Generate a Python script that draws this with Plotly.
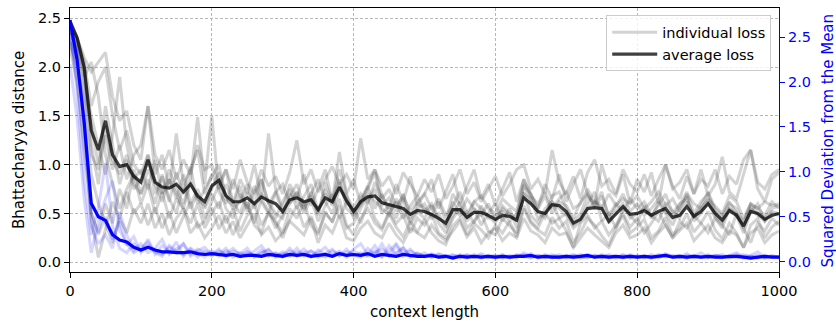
import plotly.graph_objects as go

# context lengths, sampled every 10 tokens
context = list(range(0, 1001, 10))

# Bhattacharyya distance for each individual run
loss_run_a = [
    2.40, 2.15, 1.40, 0.45, 0.05, 0.35, 0.62, 0.45, 0.72, 0.50,
    0.60, 0.38, 0.56, 0.35, 0.52, 0.30, 0.47, 0.62, 0.36, 0.42,
    0.56, 0.34, 0.48, 0.28, 0.45, 0.62, 0.38, 0.30, 0.52, 0.40,
    0.25, 0.44, 0.58, 0.36, 0.47, 0.30, 0.52, 0.41, 0.65, 0.38,
    0.28, 0.45, 0.55, 0.40, 0.33, 0.50, 0.36, 0.26, 0.42, 0.31,
    0.44, 0.30, 0.22, 0.18, 0.37, 0.45, 0.28, 0.40, 0.33, 0.25,
    0.38, 0.30, 0.42, 0.26, 0.55, 0.40, 0.33, 0.28, 0.46, 0.35,
    0.42, 0.20, 0.30, 0.45, 0.38, 0.27, 0.18, 0.35, 0.48, 0.30,
    0.36, 0.44, 0.25, 0.32, 0.46, 0.28, 0.35, 0.50, 0.31, 0.40,
    0.52, 0.33, 0.24, 0.40, 0.30, 0.15, 0.38, 0.45, 0.25, 0.36,
    0.42,
]
loss_run_b = [
    2.45, 2.30, 2.10, 1.95, 2.05, 2.15, 1.70, 1.45, 1.55, 1.20,
    1.05, 1.60, 1.10, 0.95, 1.15, 0.85, 1.05, 0.90, 1.20, 0.95,
    1.00, 0.80, 0.95, 0.75, 1.05, 0.82, 0.70, 0.95, 0.78, 0.88,
    0.70, 0.92, 1.25, 0.80, 0.95, 0.72, 0.85, 0.98, 0.80, 0.90,
    0.75, 1.27, 0.85, 0.95, 0.78, 0.88, 0.70, 0.92, 0.80, 0.68,
    0.85, 0.72, 0.90, 0.65, 0.78, 0.95, 0.70, 0.82, 0.62, 0.75,
    0.88, 0.68, 0.80, 0.95, 1.00, 0.75, 0.85, 0.70, 1.15, 0.82,
    0.70, 0.88, 0.65, 0.92, 1.05, 0.78, 0.85, 0.70, 0.95, 0.80,
    0.72, 0.90, 0.68, 0.85, 1.00, 0.75, 0.82, 0.95, 0.70, 0.85,
    0.78, 0.95, 0.70, 0.88, 0.80, 1.05, 1.15, 0.82, 0.75, 0.90,
    0.95,
]
loss_run_c = [
    2.35, 2.20, 1.85, 1.50, 1.20, 0.90, 1.30, 1.90, 1.20, 0.85,
    0.95, 0.75, 1.05, 0.70, 0.85, 0.65, 0.90, 0.60, 0.75, 0.55,
    0.70, 0.55, 0.80, 0.62, 0.50, 0.72, 0.58, 0.85, 0.60, 0.45,
    0.62, 0.75, 0.55, 0.68, 0.80, 0.52, 0.70, 0.60, 0.85, 0.55,
    0.48, 0.65, 0.78, 0.55, 0.70, 0.50, 0.62, 0.45, 0.58, 0.68,
    0.52, 0.60, 0.45, 0.38, 0.62, 0.50, 0.65, 0.55, 0.48, 0.60,
    0.42, 0.58, 0.50, 0.45, 0.80, 0.62, 0.55, 0.68, 0.50, 0.62,
    0.58, 0.45, 0.62, 0.70, 0.55, 0.68, 0.48, 0.60, 0.52, 0.65,
    0.55, 0.62, 0.48, 0.58, 0.70, 0.50, 0.60, 0.65, 0.45, 0.58,
    0.72, 0.55, 0.48, 0.62, 0.50, 0.42, 0.60, 0.55, 0.48, 0.62,
    0.55,
]
loss_run_d = [
    2.40, 2.25, 1.90, 2.05, 1.70, 1.10, 0.80, 0.55, 0.75, 0.90,
    0.60, 0.80, 0.50, 0.72, 0.45, 0.65, 0.55, 0.40, 0.60, 0.35,
    0.50, 0.62, 0.40, 0.55, 0.32, 0.48, 0.60, 0.38, 0.50, 0.42,
    0.30, 0.55, 0.45, 0.62, 0.38, 0.28, 0.50, 0.42, 0.58, 0.35,
    0.40, 0.55, 0.68, 0.45, 0.35, 0.52, 0.40, 0.48, 0.30, 0.45,
    0.38, 0.50, 0.30, 0.25, 0.45, 0.55, 0.35, 0.42, 0.50, 0.32,
    0.28, 0.45, 0.38, 0.30, 0.58, 0.42, 0.35, 0.50, 0.40, 0.45,
    0.32, 0.15, 0.40, 0.48, 0.35, 0.42, 0.28, 0.38, 0.50, 0.36,
    0.45, 0.30, 0.40, 0.52, 0.38, 0.25, 0.42, 0.35, 0.48, 0.40,
    0.30, 0.45, 0.38, 0.28, 0.50, 0.35, 0.20, 0.40, 0.32, 0.45,
    0.38,
]
loss_run_e = [
    2.30, 2.10, 1.75, 1.40, 1.00, 1.30, 0.95, 1.20, 0.85, 1.10,
    1.20, 1.60, 0.90, 1.10, 0.75, 1.32, 0.80, 0.95, 1.15, 0.70,
    0.90, 0.75, 0.95, 0.60, 0.85, 0.70, 1.00, 0.65, 1.32, 0.75,
    0.55, 0.80, 0.65, 0.90, 0.58, 0.75, 0.95, 0.62, 1.13, 0.70,
    0.85, 0.60, 0.78, 0.95, 0.68, 0.55, 0.80, 0.62, 0.88, 0.58,
    0.70, 0.85, 0.55, 0.72, 0.90, 0.60, 0.78, 0.95, 0.65, 0.80,
    0.58, 0.75, 0.92, 0.62, 0.85, 0.70, 0.55, 0.80, 0.65, 0.90,
    0.62, 0.80, 0.95, 0.70, 0.58, 1.00, 0.75, 0.68, 0.90, 0.60,
    0.85, 0.72, 0.92, 0.60, 1.00, 0.78, 0.65, 0.88, 0.70, 0.95,
    0.68, 0.80, 1.08, 0.72, 0.65, 0.90, 1.15, 0.75, 0.62, 0.85,
    0.92,
]
loss_run_f = [
    2.20, 1.85, 1.20, 0.50, 0.30, 0.60, 0.40, 0.75, 0.55, 0.95,
    0.70, 0.85, 0.60, 0.90, 0.65, 0.50, 0.80, 0.55, 0.70, 0.45,
    0.62, 0.80, 0.55, 0.45, 0.70, 0.58, 0.40, 0.65, 0.52, 0.35,
    0.48, 0.60, 0.72, 0.50, 0.65, 0.42, 0.58, 0.70, 0.45, 0.62,
    0.55, 0.40, 0.62, 0.75, 0.50, 0.58, 0.45, 0.65, 0.38, 0.52,
    0.45, 0.58, 0.40, 0.30, 0.48, 0.62, 0.42, 0.55, 0.38, 0.50,
    0.60, 0.42, 0.55, 0.35, 0.72, 0.48, 0.40, 0.55, 0.62, 0.45,
    0.50, 0.38, 0.45, 0.60, 0.72, 0.42, 0.50, 0.35, 0.55, 0.48,
    0.40, 0.58, 0.45, 0.62, 0.50, 0.38, 0.55, 0.68, 0.42, 0.50,
    0.62, 0.45, 0.35, 0.55, 0.48, 0.30, 0.52, 0.60, 0.42, 0.50,
    0.48,
]
loss_run_g = [
    2.45, 2.30, 2.05, 1.60, 1.85, 2.00, 1.50, 1.15, 1.35, 1.00,
    0.90, 1.10, 0.85, 0.70, 0.95, 0.75, 0.60, 0.85, 1.49, 0.80,
    1.50, 0.72, 0.60, 0.85, 0.68, 0.55, 0.78, 0.62, 0.50, 0.72,
    0.80, 0.60, 0.72, 0.55, 0.70, 0.85, 0.62, 0.50, 0.75, 0.68,
    0.55, 0.70, 0.60, 0.82, 0.65, 0.75, 0.58, 0.68, 0.52, 0.62,
    0.70, 0.55, 0.65, 0.48, 0.58, 0.72, 0.50, 0.62, 0.68, 0.55,
    0.50, 0.65, 0.58, 0.52, 0.85, 0.68, 0.60, 0.72, 0.55, 0.65,
    0.72, 0.55, 0.60, 0.75, 0.62, 0.55, 0.70, 0.58, 0.65, 0.60,
    0.68, 0.55, 0.62, 0.72, 0.58, 0.65, 0.52, 0.70, 0.60, 0.55,
    0.65, 0.58, 0.50, 0.68, 0.62, 0.45, 0.60, 0.55, 0.62, 0.58,
    0.60,
]
loss_run_h = [
    2.25, 2.00, 1.60, 0.90, 0.60, 0.40, 0.20, 0.45, 0.30, 0.55,
    0.40, 0.60, 0.35, 0.50, 0.28, 0.45, 0.55, 0.30, 0.40, 0.25,
    0.35, 0.48, 0.30, 0.42, 0.25, 0.38, 0.50, 0.28, 0.36, 0.22,
    0.30, 0.42, 0.35, 0.28, 0.45, 0.20, 0.38, 0.30, 0.48, 0.25,
    0.22, 0.35, 0.42, 0.30, 0.25, 0.40, 0.28, 0.20, 0.35, 0.30,
    0.25, 0.38, 0.28, 0.22, 0.32, 0.42, 0.26, 0.35, 0.20, 0.30,
    0.35, 0.22, 0.30, 0.25, 0.45, 0.32, 0.28, 0.20, 0.35, 0.28,
    0.30, 0.15, 0.25, 0.35, 0.28, 0.22, 0.15, 0.30, 0.38, 0.25,
    0.28, 0.35, 0.20, 0.30, 0.38, 0.25, 0.32, 0.40, 0.22, 0.30,
    0.38, 0.25, 0.20, 0.32, 0.28, 0.15, 0.30, 0.35, 0.20, 0.28,
    0.32,
]
loss_run_i = [
    2.38, 2.20, 1.95, 1.10, 0.95, 1.60, 1.20, 0.80, 1.05, 0.75,
    0.85, 1.10, 0.70, 0.88, 0.62, 0.92, 0.70, 0.98, 0.60, 0.75,
    0.88, 1.00, 0.65, 0.58, 0.78, 0.52, 0.70, 0.85, 0.60, 0.72,
    0.50, 0.68, 0.80, 0.58, 0.72, 0.48, 0.82, 0.62, 0.95, 0.70,
    0.45, 0.62, 0.75, 0.92, 0.58, 0.66, 0.52, 0.70, 0.45, 0.60,
    0.55, 0.48, 0.62, 0.42, 0.70, 0.58, 0.45, 0.62, 0.55, 0.48,
    0.40, 0.55, 0.48, 0.42, 0.78, 0.70, 0.52, 0.45, 0.68, 0.72,
    0.55, 0.42, 0.50, 0.68, 0.60, 0.72, 0.45, 0.58, 0.70, 0.52,
    0.60, 0.48, 0.55, 0.65, 0.52, 0.45, 0.58, 0.72, 0.50, 0.62,
    0.70, 0.52, 0.45, 0.60, 0.55, 0.40, 0.58, 0.50, 0.45, 0.55,
    0.58,
]
loss_run_j = [
    2.42, 2.28, 2.00, 1.20, 0.80, 1.40, 1.05, 0.90, 1.10, 0.80,
    0.70, 0.95, 0.80, 0.62, 0.85, 0.70, 0.55, 0.82, 0.65, 0.58,
    0.75, 0.92, 0.68, 0.55, 0.62, 0.80, 0.55, 0.70, 0.62, 0.50,
    0.45, 0.70, 0.62, 0.55, 0.68, 0.50, 0.75, 0.58, 0.82, 0.62,
    0.52, 0.58, 0.70, 0.62, 0.55, 0.48, 0.65, 0.52, 0.42, 0.55,
    0.60, 0.45, 0.50, 0.35, 0.55, 0.48, 0.52, 0.40, 0.58, 0.45,
    0.48, 0.52, 0.42, 0.50, 0.70, 0.65, 0.45, 0.50, 0.62, 0.55,
    0.48, 0.35, 0.42, 0.55, 0.62, 0.58, 0.40, 0.52, 0.60, 0.45,
    0.50, 0.55, 0.48, 0.42, 0.60, 0.52, 0.45, 0.62, 0.48, 0.55,
    0.65, 0.48, 0.40, 0.55, 0.50, 0.35, 0.55, 0.48, 0.42, 0.52,
    0.50,
]

# mean Bhattacharyya distance over runs
average_loss = [
    2.47, 2.30, 2.00, 1.35, 1.15, 1.45, 1.10, 0.98, 1.00, 0.88,
    0.82, 1.05, 0.82, 0.77, 0.76, 0.80, 0.72, 0.80, 0.68, 0.62,
    0.78, 0.84, 0.68, 0.62, 0.62, 0.66, 0.60, 0.67, 0.63, 0.60,
    0.52, 0.64, 0.66, 0.62, 0.64, 0.54, 0.66, 0.62, 0.77, 0.63,
    0.52, 0.62, 0.67, 0.68, 0.61, 0.59, 0.57, 0.55, 0.49, 0.53,
    0.52, 0.49, 0.45, 0.40, 0.54, 0.54, 0.46, 0.51, 0.51, 0.48,
    0.44, 0.48, 0.47, 0.43, 0.66, 0.60, 0.52, 0.50, 0.59, 0.58,
    0.52, 0.40, 0.44, 0.55, 0.56, 0.55, 0.42, 0.50, 0.57, 0.49,
    0.50, 0.53, 0.48, 0.52, 0.55, 0.46, 0.48, 0.57, 0.47, 0.52,
    0.60, 0.50, 0.43, 0.53, 0.48, 0.37, 0.52, 0.50, 0.44, 0.48,
    0.50,
]

# squared deviation from the mean, per run
sqdev_run_a = [
    2.60, 1.90, 0.90, 0.30, 0.60, 1.10, 0.40, 0.15, 0.10, 0.20,
    0.12, 0.25, 0.08, 0.18, 0.10, 0.22, 0.06, 0.15, 0.10, 0.05,
    0.12, 0.08, 0.15, 0.05, 0.10, 0.06, 0.12, 0.18, 0.07, 0.10,
    0.05, 0.12, 0.08, 0.14, 0.06, 0.10, 0.16, 0.07, 0.12, 0.05,
    0.14, 0.20, 0.08, 0.18, 0.06, 0.12, 0.20, 0.09, 0.14, 0.06,
    0.10, 0.05, 0.09, 0.06, 0.08, 0.04, 0.07, 0.05, 0.09, 0.06,
    0.05, 0.08, 0.04, 0.07, 0.05, 0.09, 0.04, 0.06, 0.08, 0.05,
    0.07, 0.04, 0.06, 0.08, 0.05, 0.07, 0.04, 0.06, 0.05, 0.08,
    0.05, 0.07, 0.04, 0.06, 0.09, 0.05, 0.07, 0.04, 0.06, 0.05,
    0.08, 0.05, 0.04, 0.07, 0.10, 0.05, 0.06, 0.04, 0.07, 0.05,
    0.06,
]
sqdev_run_b = [
    2.45, 2.20, 1.80, 0.40, 0.20, 0.30, 0.15, 0.55, 0.30, 0.12,
    0.20, 0.10, 0.15, 0.25, 0.08, 0.14, 0.20, 0.06, 0.12, 0.16,
    0.08, 0.14, 0.05, 0.12, 0.09, 0.15, 0.05, 0.10, 0.13, 0.06,
    0.11, 0.07, 0.15, 0.06, 0.12, 0.08, 0.05, 0.12, 0.07, 0.14,
    0.06, 0.10, 0.07, 0.12, 0.05, 0.18, 0.08, 0.15, 0.06, 0.10,
    0.05, 0.08, 0.06, 0.04, 0.07, 0.05, 0.08, 0.06, 0.04, 0.07,
    0.06, 0.04, 0.07, 0.05, 0.08, 0.05, 0.07, 0.04, 0.06, 0.08,
    0.05, 0.07, 0.04, 0.06, 0.05, 0.08, 0.06, 0.04, 0.07, 0.05,
    0.06, 0.04, 0.08, 0.05, 0.07, 0.05, 0.04, 0.07, 0.06, 0.10,
    0.05, 0.07, 0.05, 0.04, 0.06, 0.08, 0.05, 0.07, 0.04, 0.06,
    0.05,
]
sqdev_run_c = [
    2.20, 1.60, 0.70, 0.10, 0.45, 0.70, 0.90, 0.35, 0.20, 0.10,
    0.15, 0.22, 0.10, 0.06, 0.18, 0.12, 0.08, 0.14, 0.05, 0.12,
    0.10, 0.06, 0.12, 0.08, 0.05, 0.10, 0.07, 0.13, 0.06, 0.09,
    0.07, 0.15, 0.06, 0.10, 0.12, 0.05, 0.09, 0.14, 0.06, 0.11,
    0.08, 0.05, 0.15, 0.07, 0.20, 0.06, 0.10, 0.16, 0.05, 0.09,
    0.06, 0.09, 0.05, 0.07, 0.04, 0.08, 0.06, 0.05, 0.07, 0.04,
    0.07, 0.05, 0.06, 0.04, 0.10, 0.06, 0.05, 0.08, 0.04, 0.06,
    0.04, 0.06, 0.08, 0.05, 0.07, 0.04, 0.06, 0.05, 0.08, 0.04,
    0.07, 0.05, 0.06, 0.04, 0.08, 0.06, 0.05, 0.09, 0.04, 0.06,
    0.05, 0.06, 0.08, 0.05, 0.04, 0.06, 0.07, 0.11, 0.05, 0.06,
    0.04,
]
sqdev_run_d = [
    2.55, 2.00, 1.20, 0.55, 0.30, 0.50, 0.25, 0.45, 0.18, 0.28,
    0.10, 0.18, 0.12, 0.08, 0.16, 0.10, 0.20, 0.08, 0.14, 0.10,
    0.06, 0.12, 0.09, 0.15, 0.07, 0.11, 0.06, 0.09, 0.14, 0.05,
    0.09, 0.06, 0.11, 0.08, 0.05, 0.13, 0.08, 0.06, 0.10, 0.07,
    0.12, 0.08, 0.06, 0.10, 0.14, 0.07, 0.18, 0.06, 0.12, 0.08,
    0.07, 0.05, 0.08, 0.06, 0.05, 0.07, 0.04, 0.08, 0.05, 0.06,
    0.04, 0.07, 0.05, 0.08, 0.06, 0.04, 0.07, 0.05, 0.06, 0.04,
    0.06, 0.08, 0.05, 0.04, 0.07, 0.05, 0.08, 0.06, 0.04, 0.07,
    0.05, 0.06, 0.04, 0.08, 0.05, 0.07, 0.06, 0.04, 0.07, 0.05,
    0.04, 0.07, 0.06, 0.05, 0.08, 0.04, 0.06, 0.05, 0.04, 0.07,
    0.05,
]

# mean squared deviation over runs
average_sqdev = [
    2.69, 2.25, 1.55, 0.65, 0.50, 0.46, 0.30, 0.24, 0.22, 0.16,
    0.13, 0.16, 0.13, 0.11, 0.11, 0.10, 0.10, 0.11, 0.09, 0.08,
    0.09, 0.08, 0.07, 0.08, 0.06, 0.07, 0.07, 0.06, 0.08, 0.07,
    0.06, 0.08, 0.07, 0.08, 0.06, 0.07, 0.08, 0.06, 0.09, 0.07,
    0.08, 0.07, 0.09, 0.06, 0.08, 0.07, 0.06, 0.08, 0.07, 0.06,
    0.06, 0.07, 0.05, 0.06, 0.04, 0.06, 0.05, 0.06, 0.05, 0.06,
    0.05, 0.06, 0.05, 0.06, 0.06, 0.07, 0.05, 0.06, 0.05, 0.05,
    0.06, 0.05, 0.06, 0.07, 0.05, 0.06, 0.05, 0.06, 0.05, 0.06,
    0.05, 0.06, 0.05, 0.06, 0.07, 0.05, 0.06, 0.05, 0.06, 0.05,
    0.06, 0.05, 0.05, 0.06, 0.06, 0.05, 0.04, 0.05, 0.06, 0.05,
    0.05,
]

tick_vals = [0, 0.5, 1.0, 1.5, 2.0, 2.5]
tick_text = ["0.0", "0.5", "1.0", "1.5", "2.0", "2.5"]
x_ticks = [0, 200, 400, 600, 800, 1000]

loss_runs = [loss_run_a, loss_run_b, loss_run_c, loss_run_d, loss_run_e,
             loss_run_f, loss_run_g, loss_run_h, loss_run_i, loss_run_j]
sqdev_runs = [sqdev_run_a, sqdev_run_b, sqdev_run_c, sqdev_run_d]

FONT = "DejaVu Sans"
BLUE = "#0000ff"
TICK_SIZE = 14.5
LABEL_SIZE = 15

fig = go.Figure()

for i, run in enumerate(loss_runs):
    fig.add_trace(go.Scatter(
        x=context, y=run, mode="lines",
        line=dict(color="rgba(70,70,70,0.24)", width=3),
        name="individual loss",
        showlegend=(i == 0), hoverinfo="skip",
    ))

fig.add_trace(go.Scatter(
    x=context, y=average_loss, mode="lines",
    line=dict(color="rgba(0,0,0,0.75)", width=3.2),
    name="average loss",
))

for run in sqdev_runs:
    fig.add_trace(go.Scatter(
        x=context, y=run, mode="lines", yaxis="y2",
        line=dict(color="rgba(0,0,255,0.16)", width=3),
        showlegend=False, hoverinfo="skip",
    ))

fig.add_trace(go.Scatter(
    x=context, y=average_sqdev, mode="lines", yaxis="y2",
    line=dict(color=BLUE, width=3.2),
    showlegend=False,
))

grid = dict(showgrid=True, gridcolor="#b8b8b8", gridwidth=0.8, griddash="3px,2px")

fig.update_layout(
    width=836, height=323,
    margin=dict(l=70, r=57, t=8, b=51),
    paper_bgcolor="white", plot_bgcolor="white",
    font=dict(family=FONT, size=TICK_SIZE, color="black"),
    showlegend=True,
    xaxis=dict(
        range=[0, 1000], tickvals=x_ticks,
        ticks="outside", ticklen=5, tickwidth=1, tickcolor="black",
        showline=True, linecolor="black", linewidth=1.2, mirror=True,
        zeroline=False, automargin=False,
        **grid,
    ),
    yaxis=dict(
        range=[-0.1, 2.605], tickvals=tick_vals, ticktext=tick_text,
        ticks="outside", ticklen=5, tickwidth=1, tickcolor="black",
        showline=True, linecolor="black", linewidth=1.2, mirror=False,
        zeroline=False, automargin=False,
        **grid,
    ),
    yaxis2=dict(
        overlaying="y", side="right",
        range=[-0.115, 2.825], tickvals=tick_vals, ticktext=tick_text,
        ticks="outside", ticklen=5, tickwidth=1, tickcolor=BLUE,
        tickfont=dict(color=BLUE),
        showline=True, linecolor=BLUE, linewidth=1.2,
        showgrid=False, zeroline=False, automargin=False,
    ),
    legend=dict(
        x=0.989, y=0.972, xanchor="right", yanchor="top",
        bgcolor="rgba(255,255,255,0.8)", bordercolor="#cccccc", borderwidth=1,
        font=dict(family=FONT, size=TICK_SIZE),
        itemwidth=45, tracegroupgap=0,
    ),
    annotations=[
        dict(text="context length", xref="paper", yref="paper",
             x=0.5, y=-0.1515, xanchor="center", yanchor="middle",
             showarrow=False, font=dict(size=LABEL_SIZE, color="black")),
        dict(text="Bhattacharyya distance", xref="paper", yref="paper",
             x=-0.0719, y=0.5, xanchor="center", yanchor="middle", textangle=-90,
             showarrow=False, font=dict(size=LABEL_SIZE, color="black")),
        dict(text="Squared Deviation from the Mean", xref="paper", yref="paper",
             x=1.0698, y=0.5, xanchor="center", yanchor="middle", textangle=-90,
             showarrow=False, font=dict(size=LABEL_SIZE, color=BLUE)),
    ],
)

fig.write_html("out.html")
